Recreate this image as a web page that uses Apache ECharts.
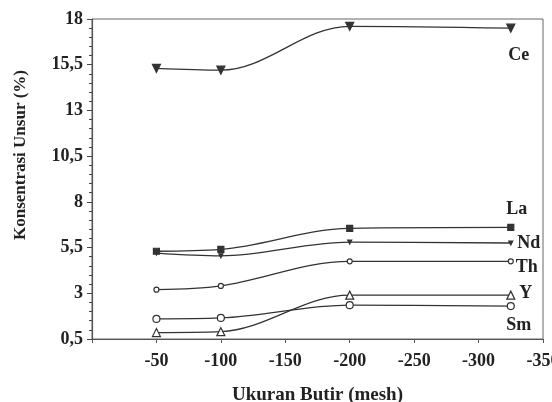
<!DOCTYPE html>
<html>
<head>
<meta charset="utf-8">
<script src="https://cdn.jsdelivr.net/npm/echarts@6/dist/echarts.min.js"></script>
<style>
  html, body { margin: 0; padding: 0; background: #fff; }
  #chart { width: 552px; height: 402px; }
</style>
</head>
<body>
<div id="chart"></div>
<script>
  // ukuran butir (mesh)
  var mesh = [-50, -100, -200, -325]
  var ce = [15.3, 15.2, 17.6, 17.5]
  var la = [5.3, 5.4, 6.55, 6.6]
  var nd = [5.2, 5.05, 5.8, 5.75]
  var th = [3.2, 3.4, 4.75, 4.75]
  var yy = [0.85, 0.9, 2.9, 2.9]
  var sm = [1.6, 1.65, 2.35, 2.3]

  var font = 'Liberation Serif'
  var lineColor = '#333'

  function buildData (vals, name, off) {
    return vals.map(function (v, i) {
      var item = { value: [mesh[i], v] }
      if (i === vals.length - 1) {
        item.label = {
          show: true,
          position: 'inside',
          offset: off,
          formatter: name,
          color: '#222',
          fontFamily: font,
          fontWeight: 'bold',
          fontSize: 18
        }
      }
      return item
    })
  }

  function makeSeries (name, vals, symbol, size, filled, rotate, off) {
    return {
      name: name,
      type: 'line',
      smooth: 0.35,
      symbol: symbol,
      symbolSize: size,
      symbolRotate: rotate || 0,
      showAllSymbol: true,
      lineStyle: { color: lineColor, width: 1.3 },
      itemStyle: {
        color: filled ? lineColor : '#fff',
        borderColor: lineColor,
        borderWidth: 1.2
      },
      data: buildData(vals, name, off)
    }
  }

  var chart = echarts.init(document.getElementById('chart'))
  var option = {
    backgroundColor: '#fff',
    animation: false,
    grid: {
      left: 92, top: 19, right: 9, bottom: 63,
      outerBoundsMode: 'none',
      containLabel: false,
      show: true, borderColor: '#666', borderWidth: 1
    },
    xAxis: {
      type: 'value',
      min: -350,
      max: 0,
      interval: 50,
      inverse: true,
      name: 'Ukuran Butir (mesh)',
      nameLocation: 'middle',
      nameGap: 47,
      nameTextStyle: { fontFamily: font, fontWeight: 'bold', fontSize: 19, color: '#222' },
      axisLine: { lineStyle: { color: '#555', width: 1.2 } },
      axisTick: { show: true, length: 4, lineStyle: { color: '#555' } },
      splitLine: { show: false },
      axisLabel: {
        margin: 13,
        showMinLabel: true,
        hideOverlap: false,
        fontFamily: font,
        fontWeight: 'bold',
        fontSize: 18,
        color: '#222',
        formatter: function (v) { return v === 0 ? '' : String(v) }
      }
    },
    yAxis: {
      type: 'value',
      min: 0.5,
      max: 18,
      interval: 2.5,
      axisLine: { show: true, lineStyle: { color: '#555', width: 1.2 } },
      axisTick: { show: true, length: 5, lineStyle: { color: '#444' } },
      minorTick: { show: true, splitNumber: 5, length: 3, lineStyle: { color: '#444' } },
      splitLine: { show: false },
      axisLabel: {
        margin: 9,
        fontFamily: font,
        fontWeight: 'bold',
        fontSize: 18,
        color: '#222',
        formatter: function (v) { return String(v).replace('.', ',') }
      }
    },
    graphic: [{
      type: 'text',
      left: 12,
      top: 70,
      rotation: Math.PI / 2,
      style: {
        text: 'Konsentrasi Unsur (%)',
        fontFamily: font,
        fontWeight: 'bold',
        fontSize: 17,
        fill: '#222'
      }
    }],
    series: [
      makeSeries('Ce', ce, 'triangle', 8, true, 180, [8, 27]),
      makeSeries('La', la, 'rect', 6, true, 0, [6, -18]),
      makeSeries('Nd', nd, 'triangle', 4, true, 180, [18, 0]),
      makeSeries('Th', th, 'circle', 5, false, 0, [16, 6]),
      makeSeries('Y', yy, 'triangle', 8, false, 0, [15, -2]),
      makeSeries('Sm', sm, 'circle', 7, false, 0, [8, 19])
    ]
  }
  chart.setOption(option)
  window.addEventListener('resize', chart.resize)
</script>
</body>
</html>
